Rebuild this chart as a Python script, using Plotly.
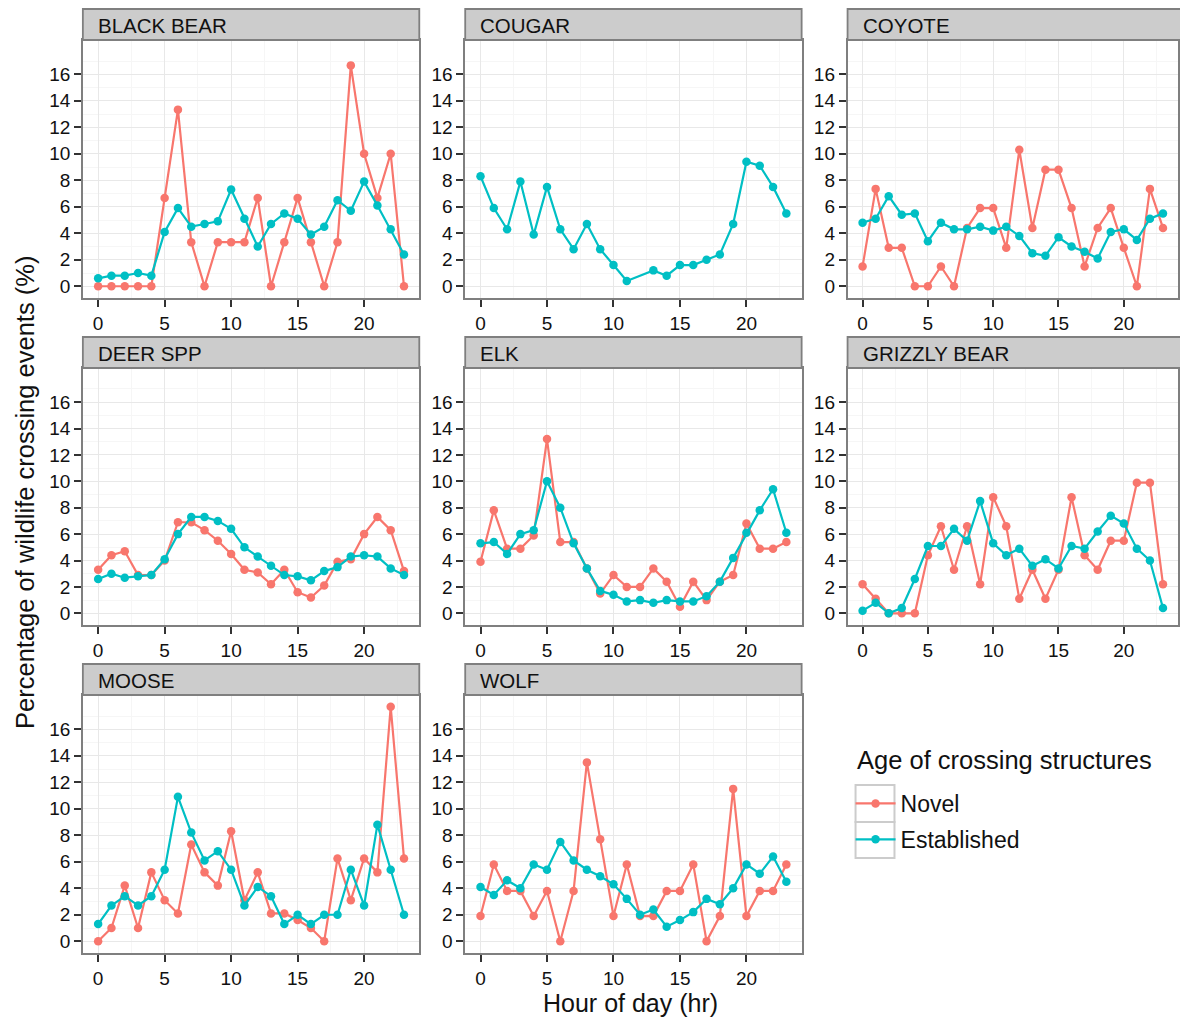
import plotly.graph_objects as go

hours = list(range(24))
species = ["BLACK BEAR", "COUGAR", "COYOTE", "DEER SPP", "ELK", "GRIZZLY BEAR", "MOOSE", "WOLF"]

novel = {
    "BLACK BEAR": [0, 0, 0, 0, 0, 6.67, 13.33, 3.33, 0, 3.33, 3.33, 3.33, 6.67, 0, 3.33, 6.67, 3.33, 0, 3.33, 16.67, 10, 6.67, 10, 0],
    "COUGAR": None,
    "COYOTE": [1.5, 7.35, 2.9, 2.9, 0, 0, 1.5, 0, 4.4, 5.9, 5.9, 2.9, 10.3, 4.4, 8.8, 8.8, 5.9, 1.5, 4.4, 5.9, 2.9, 0, 7.35, 4.4],
    "DEER SPP": [3.3, 4.4, 4.7, 2.9, 2.9, 4.0, 6.9, 6.9, 6.3, 5.5, 4.5, 3.3, 3.1, 2.2, 3.3, 1.6, 1.2, 2.1, 3.9, 4.1, 6.0, 7.3, 6.3, 3.2],
    "ELK": [3.9, 7.8, 4.9, 4.9, 5.9, 13.2, 5.4, 5.4, 3.4, 1.5, 2.9, 2.0, 2.0, 3.4, 2.4, 0.5, 2.4, 1.0, 2.4, 2.9, 6.8, 4.9, 4.9, 5.4],
    "GRIZZLY BEAR": [2.2, 1.1, 0, 0, 0, 4.4, 6.6, 3.3, 6.6, 2.2, 8.8, 6.6, 1.1, 3.3, 1.1, 3.3, 8.8, 4.4, 3.3, 5.5, 5.5, 9.9, 9.9, 2.2],
    "MOOSE": [0, 1.0, 4.2, 1.0, 5.2, 3.1, 2.1, 7.3, 5.2, 4.2, 8.3, 3.1, 5.2, 2.1, 2.1, 1.6, 1.0, 0, 6.25, 3.1, 6.25, 5.2, 17.7, 6.25],
    "WOLF": [1.9, 5.8, 3.8, 3.8, 1.9, 3.8, 0, 3.8, 13.5, 7.7, 1.9, 5.8, 1.9, 1.9, 3.8, 3.8, 5.8, 0, 1.9, 11.5, 1.9, 3.8, 3.8, 5.8],
}

established = {
    "BLACK BEAR": [0.6, 0.8, 0.8, 1.0, 0.8, 4.1, 5.9, 4.5, 4.7, 4.9, 7.3, 5.1, 3.0, 4.7, 5.5, 5.1, 3.9, 4.5, 6.5, 5.7, 7.9, 6.1, 4.3, 2.4],
    "COUGAR": [8.3, 5.9, 4.3, 7.9, 3.9, 7.5, 4.3, 2.8, 4.7, 2.8, 1.6, 0.4, None, 1.2, 0.8, 1.6, 1.6, 2.0, 2.4, 4.7, 9.4, 9.1, 7.5, 5.5],
    "COYOTE": [4.8, 5.1, 6.8, 5.4, 5.5, 3.4, 4.8, 4.3, 4.3, 4.5, 4.2, 4.5, 3.8, 2.5, 2.3, 3.7, 3.0, 2.6, 2.1, 4.1, 4.3, 3.5, 5.1, 5.5],
    "DEER SPP": [2.6, 3.0, 2.7, 2.8, 2.9, 4.1, 6.0, 7.3, 7.3, 7.0, 6.4, 5.0, 4.3, 3.6, 2.9, 2.8, 2.5, 3.2, 3.5, 4.3, 4.4, 4.3, 3.4, 2.9],
    "ELK": [5.3, 5.4, 4.5, 6.0, 6.3, 10.0, 8.0, 5.3, 3.4, 1.7, 1.4, 0.9, 1.0, 0.8, 1.0, 0.9, 0.9, 1.3, 2.4, 4.2, 6.1, 7.8, 9.4, 6.1],
    "GRIZZLY BEAR": [0.2, 0.8, 0, 0.4, 2.6, 5.1, 5.1, 6.4, 5.5, 8.5, 5.3, 4.4, 4.9, 3.6, 4.1, 3.4, 5.1, 4.9, 6.2, 7.4, 6.8, 4.9, 4.0, 0.4],
    "MOOSE": [1.3, 2.7, 3.4, 2.7, 3.4, 5.4, 10.9, 8.2, 6.1, 6.8, 5.4, 2.7, 4.1, 3.4, 1.3, 2.0, 1.3, 2.0, 2.0, 5.4, 2.7, 8.8, 5.4, 2.0],
    "WOLF": [4.1, 3.5, 4.6, 4.0, 5.8, 5.4, 7.5, 6.1, 5.4, 4.9, 4.3, 3.2, 2.0, 2.4, 1.1, 1.6, 2.2, 3.2, 2.8, 4.0, 5.8, 5.1, 6.4, 4.5],
}

y_ticks = [0, 2, 4, 6, 8, 10, 12, 14, 16]
x_ticks = [0, 5, 10, 15, 20]

NOVEL_COLOR = "#F8766D"
EST_COLOR = "#00BFC4"
FONT = "Liberation Sans, Arial, sans-serif"

W, H = 1180, 1019
col_px = [(83, 420), (466, 803), (849, 1186)]
row_px = [(40, 298), (368, 625), (695, 953)]
strip_top = [9, 337, 664]


def px_x(v):
    return v / W


def px_y(v):
    return 1 - v / H


fig = go.Figure()
shapes = []
annotations = []

for i, sp in enumerate(species):
    r, c = divmod(i, 3)
    idx = "" if i == 0 else str(i + 1)
    xa, ya = "x" + idx, "y" + idx
    x0, x1 = col_px[c]
    y0, y1 = row_px[r]
    fig.layout["xaxis" + idx] = dict(
        domain=[px_x(x0), min(px_x(x1), 1.0)], anchor=ya, range=[-1.15, 24.15],
        tickvals=x_ticks, ticks="outside", ticklen=7, tickwidth=1.8, tickcolor="#333333",
        showgrid=True, gridcolor="#E8E8E8", gridwidth=1.2,
        minor=dict(tickvals=[2.5, 7.5, 12.5, 17.5, 22.5], showgrid=True, gridcolor="#F6F6F6", gridwidth=1),
        showline=True, linecolor="#7F7F7F", linewidth=1.5, mirror=True, zeroline=False,
        tickfont=dict(family=FONT, size=19, color="#111111"),
    )
    fig.layout["yaxis" + idx] = dict(
        domain=[px_y(y1), px_y(y0)], anchor=xa, range=[-0.885, 18.585],
        tickvals=y_ticks, ticks="outside", ticklen=7, tickwidth=1.8, tickcolor="#333333",
        showgrid=True, gridcolor="#E8E8E8", gridwidth=1.2,
        minor=dict(tickvals=[1, 3, 5, 7, 9, 11, 13, 15, 17], showgrid=True, gridcolor="#F6F6F6", gridwidth=1),
        showline=True, linecolor="#7F7F7F", linewidth=1.5, mirror=True, zeroline=False,
        tickfont=dict(family=FONT, size=19, color="#111111"),
    )
    if novel[sp] is not None:
        fig.add_trace(go.Scatter(
            x=hours, y=novel[sp], mode="lines+markers", name="Novel",
            line=dict(color=NOVEL_COLOR, width=2.2), marker=dict(color=NOVEL_COLOR, size=8.5),
            xaxis=xa, yaxis=ya, showlegend=(i == 0), legendgroup="Novel", connectgaps=True,
        ))
    fig.add_trace(go.Scatter(
        x=hours, y=established[sp], mode="lines+markers", name="Established",
        line=dict(color=EST_COLOR, width=2.2), marker=dict(color=EST_COLOR, size=8.5),
        xaxis=xa, yaxis=ya, showlegend=(i == 0), legendgroup="Established", connectgaps=True,
    ))
    # strip
    shapes.append(dict(
        type="rect", xref="paper", yref="paper",
        x0=px_x(x0), x1=px_x(x1), y0=px_y(y0), y1=px_y(strip_top[r]),
        fillcolor="#CCCCCC", line=dict(color="#7F7F7F", width=1.8), layer="above",
    ))
    annotations.append(dict(
        text=sp, xref="paper", yref="paper", x=px_x(x0 + 13), y=px_y((y0 + strip_top[r]) / 2 + 1),
        xanchor="left", yanchor="middle", showarrow=False,
        font=dict(family=FONT, size=20.5, color="#111111"),
    ))

# legend key boxes (ggplot style)
for ky0, ky1 in [(785, 822), (822, 858)]:
    shapes.append(dict(
        type="rect", xref="paper", yref="paper",
        x0=px_x(857), x1=px_x(896), y0=px_y(ky1), y1=px_y(ky0),
        fillcolor="white", line=dict(color="#CCCCCC", width=2), layer="below",
    ))

annotations.append(dict(
    text="Age of crossing structures", xref="paper", yref="paper", x=px_x(856), y=px_y(760),
    xanchor="left", yanchor="middle", showarrow=False,
    font=dict(family=FONT, size=25.5, color="#111111"),
))
annotations.append(dict(
    text="Hour of day (hr)", xref="paper", yref="paper", x=px_x(632), y=px_y(1003),
    xanchor="center", yanchor="middle", showarrow=False,
    font=dict(family=FONT, size=25, color="#111111"),
))
annotations.append(dict(
    text="Percentage of wildlife crossing events (%)", xref="paper", yref="paper",
    x=px_x(25), y=px_y(492), textangle=-90,
    xanchor="center", yanchor="middle", showarrow=False,
    font=dict(family=FONT, size=25.5, color="#111111"),
))

fig.update_layout(
    width=W, height=H,
    margin=dict(l=0, r=0, t=0, b=0),
    paper_bgcolor="white", plot_bgcolor="white",
    shapes=shapes, annotations=annotations,
    showlegend=True,
    legend=dict(
        x=px_x(852), y=px_y(782), xanchor="left", yanchor="top",
        font=dict(family=FONT, size=23, color="#111111"),
        bgcolor="rgba(0,0,0,0)", itemwidth=40, tracegroupgap=3,
    ),
)

fig.write_html("out.html")
